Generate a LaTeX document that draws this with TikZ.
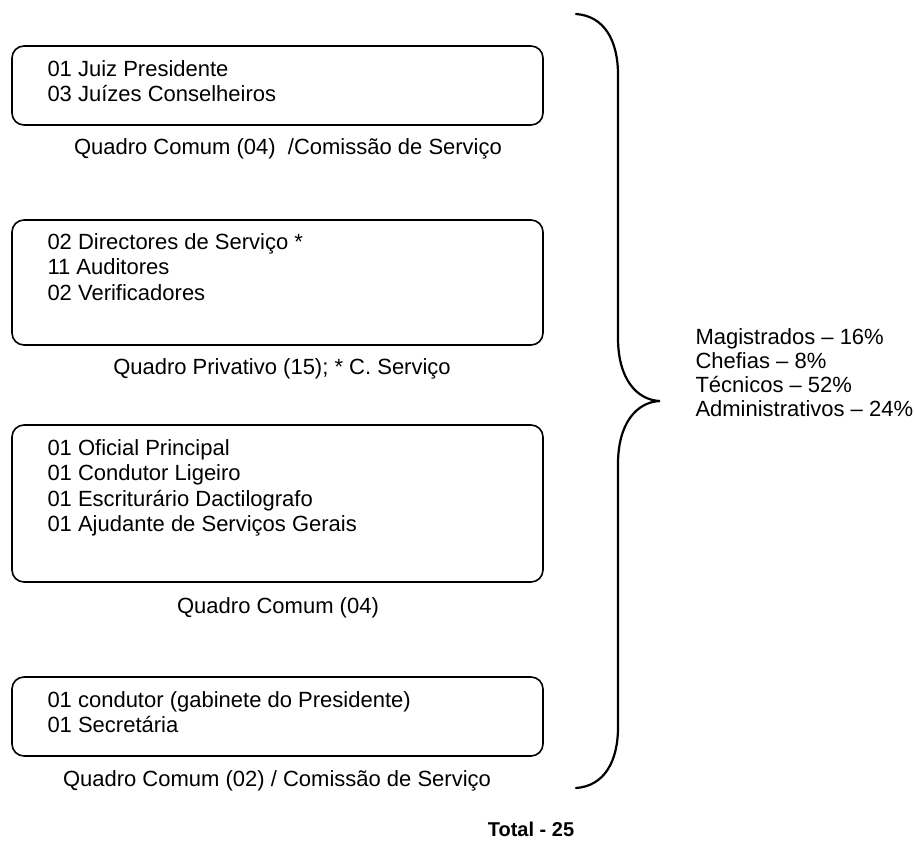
\documentclass[tikz,border=0pt]{standalone}
\usepackage{fontspec}
\setmainfont{Liberation Sans}
\begin{document}
\begin{tikzpicture}[x=1pt,y=-1pt,
  txt/.style={inner sep=0pt,outer sep=0pt,font=\fontsize{22}{25.5}\selectfont,align=left},
  captxt/.style={inner sep=0pt,outer sep=0pt,font=\fontsize{22}{25.5}\selectfont},
  framebox/.style={draw=black,line width=1.6pt,rounded corners=12pt,inner sep=0pt,outer sep=0pt},
  bracepath/.style={draw=black,line width=2.2pt,line cap=round}]
\useasboundingbox (0,0) rectangle (915,843);

% frames
\draw[framebox] (12,46) rectangle (543,125);
\draw[framebox] (12,220) rectangle (543,345);
\draw[framebox] (12,425) rectangle (543,582);
\draw[framebox] (12,677) rectangle (543,756);

% staff lists (base anchor = baseline of the last line)
\node[txt,anchor=base west] (t1) at (47.5,101.5) {01 Juiz Presidente\\03 Juízes Conselheiros};
\node[txt,anchor=base west] (t2) at (47.5,300) {02 Directores de Serviço *\\11 Auditores\\02 Verificadores};
\node[txt,anchor=base west] (t3) at (47.5,531.5) {01 Oficial Principal\\01 Condutor Ligeiro\\01 Escriturário Dactilografo\\01 Ajudante de Serviços Gerais};
\node[txt,anchor=base west] (t4) at (47.5,732.5) {01 condutor (gabinete do Presidente)\\01 Secretária};

% captions
\node[captxt,anchor=base west] (c1) at (74,154) {Quadro Comum (04)\ \ /Comissão de Serviço};
\node[captxt,anchor=base] (c2) at (282,374) {Quadro Privativo (15); * C. Serviço};
\node[captxt,anchor=base] (c3) at (278,613) {Quadro Comum (04)};
\node[captxt,anchor=base] (c4) at (277,786) {Quadro Comum (02) / Comissão de Serviço};

% brace
\draw[bracepath] (576,14) .. controls (604,16) and (618,40) .. (618,75)
  -- (618,338) .. controls (618,378) and (636,400) .. (660,401)
  .. controls (636,402) and (618,424) .. (618,464)
  -- (618,727) .. controls (618,762) and (604,786) .. (576,788);

% percentages
\node[txt,anchor=base west,font=\fontsize{22}{24}\selectfont] (pct) at (695.5,416)
  {Magistrados – 16\%\\Chefias – 8\%\\Técnicos – 52\%\\Administrativos – 24\%};

% total
\node[captxt,anchor=base,font=\fontsize{20}{24}\selectfont\bfseries] (tot) at (531,836) {Total - 25};
\end{tikzpicture}
\end{document}
